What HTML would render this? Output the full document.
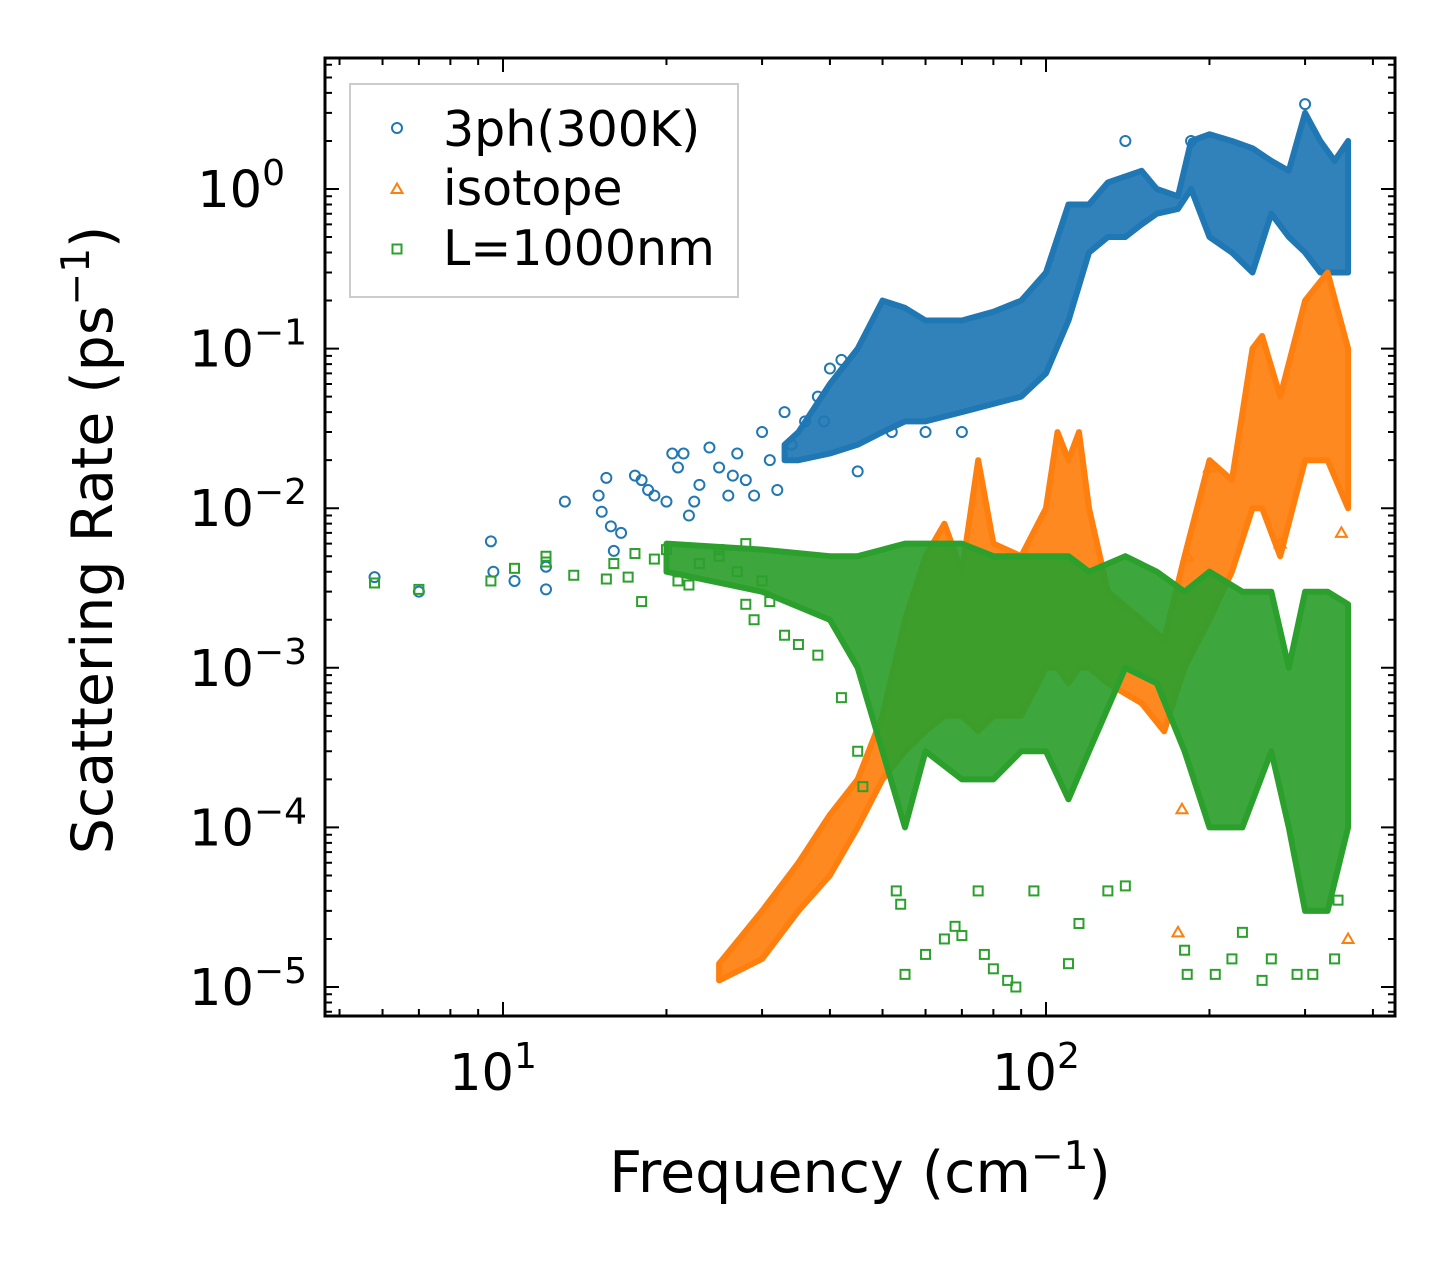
<!DOCTYPE html>
<html><head><meta charset="utf-8"><style>
body{margin:0;background:#fff;}
svg{display:block;font-family:"DejaVu Sans","Liberation Sans",sans-serif;}
</style></head>
<body>
<svg id="chart" width="1455" height="1265" viewBox="0 0 1455 1265" xmlns="http://www.w3.org/2000/svg">
<rect width="1455" height="1265" fill="#fff"/>
<defs><clipPath id="clip"><rect x="325" y="58" width="1070" height="958"/></clipPath></defs>
<g id="bands" clip-path="url(#clip)"></g>
<g id="points" clip-path="url(#clip)"></g>
<g id="axes"></g>
<text x="860" y="1192" font-size="57" text-anchor="middle">Frequency (cm<tspan font-size="39" dy="-23">−1</tspan><tspan dy="23">)</tspan></text>
<text transform="translate(112,540) rotate(-90)" font-size="57" text-anchor="middle">Scattering Rate (ps<tspan font-size="39" dy="-23">−1</tspan><tspan dy="23">)</tspan></text>
<g>
<rect x="350" y="84" width="388" height="213" fill="#fff" stroke="#ccc" stroke-width="2"/>
<circle cx="397" cy="128" r="5" fill="none" stroke="#1f77b4" stroke-width="2"/>
<text x="443" y="146" font-size="49">3ph(300K)</text>
<path d="M391.5 193 L397 183.5 L402.5 193 Z" fill="none" stroke="#ff7f0e" stroke-width="2"/>
<text x="443" y="205" font-size="49">isotope</text>
<rect x="392.5" y="244.5" width="9" height="9" fill="none" stroke="#2ca02c" stroke-width="2"/>
<text x="443" y="265" font-size="49">L=1000nm</text>
</g>
</svg>
<script>
// ---- data ----
const bandFreqBlue=[33,35,40,45,50,55,60,70,80,90,100,110,120,130,140,150,160,175,185,200,220,240,260,280,300,320,340,360];
const bandLoBlue=[0.02,0.02,0.022,0.025,0.03,0.035,0.035,0.04,0.045,0.05,0.07,0.15,0.4,0.5,0.5,0.6,0.7,0.75,1.0,0.5,0.4,0.3,0.7,0.5,0.4,0.3,0.3,0.3];
const bandHiBlue=[0.025,0.03,0.06,0.1,0.2,0.18,0.15,0.15,0.17,0.2,0.3,0.8,0.8,1.1,1.2,1.3,1.0,0.9,2.0,2.2,2.0,1.8,1.5,1.3,3.0,2.0,1.5,2.0];
const bandFreqOrange=[25,30,35,40,45,50,55,60,65,70,75,80,90,100,105,110,115,120,130,150,165,180,200,220,240,250,270,300,330,360];
const bandLoOrange=[1.1e-5,1.5e-5,3e-5,5e-5,1e-4,2e-4,3e-4,4e-4,5e-4,5e-4,4e-4,5e-4,5e-4,1e-3,1e-3,8e-4,1e-3,1e-3,8e-4,6e-4,4e-4,1e-3,2e-3,4e-3,1e-2,1e-2,5e-3,2e-2,2e-2,1e-2];
const bandHiOrange=[1.4e-5,3e-5,6e-5,1.2e-4,2e-4,5e-4,2e-3,5e-3,8e-3,4e-3,2e-2,6e-3,5e-3,1e-2,3e-2,2e-2,3e-2,1e-2,3e-3,2e-3,1.5e-3,5e-3,2e-2,1.5e-2,1e-1,1.2e-1,5e-2,2e-1,3e-1,1e-1];
const bandFreqGreen=[20,30,40,45,50,55,60,70,80,90,100,110,120,140,160,180,200,230,260,280,300,330,360];
const bandLoGreen=[4e-3,3e-3,2e-3,1e-3,3e-4,1e-4,3e-4,2e-4,2e-4,3e-4,3e-4,1.5e-4,3e-4,1e-3,8e-4,3e-4,1e-4,1e-4,3e-4,1e-4,3e-5,3e-5,1e-4];
const bandHiGreen=[6e-3,5.5e-3,5e-3,5e-3,5.5e-3,6e-3,6e-3,6e-3,5e-3,5e-3,5e-3,5e-3,4e-3,5e-3,4e-3,3e-3,4e-3,3e-3,3e-3,1e-3,3e-3,3e-3,2.5e-3];
const freqBlue=[5.8,7,9.5,9.6,10.5,12,12,13,15,15.2,15.5,15.8,16,16.5,17.5,18,18.5,19,20,20.5,21,21.5,22,22.5,23,24,25,26,26.5,27,28,29,30,31,32,33,34,36,38,39,40,42,45,52,60,70,140,185,300];
const rateBlue=[3.7e-3,3e-3,6.2e-3,4e-3,3.5e-3,4.3e-3,3.1e-3,1.1e-2,1.2e-2,9.5e-3,1.55e-2,7.7e-3,5.4e-3,7e-3,1.6e-2,1.5e-2,1.3e-2,1.2e-2,1.1e-2,2.2e-2,1.8e-2,2.2e-2,9e-3,1.1e-2,1.4e-2,2.4e-2,1.8e-2,1.2e-2,1.6e-2,2.2e-2,1.5e-2,1.2e-2,3e-2,2e-2,1.3e-2,4e-2,2.5e-2,3.5e-2,5e-2,3.5e-2,7.5e-2,8.5e-2,1.7e-2,0.03,0.03,0.03,2.0,2.0,3.4];
const freqOrange=[175,178,360,200,350,270,182];
const rateOrange=[2.2e-5,1.3e-4,2e-5,0.018,0.007,0.006,0.005];
const freqGreen=[5.8,7,9.5,10.5,12,12,13.5,15.5,16,17,17.5,18,19,20,21,22,23,25,25,27,28,28,29,30,31,33,35,38,42,45,46,53,54,55,60,65,68,70,75,77,80,85,88,95,110,115,130,140,180,182,205,220,230,250,260,290,310,340,345];
const rateGreen=[3.4e-3,3.1e-3,3.5e-3,4.2e-3,5e-3,4.6e-3,3.8e-3,3.6e-3,4.5e-3,3.7e-3,5.2e-3,2.6e-3,4.8e-3,5.5e-3,3.5e-3,3.3e-3,4.5e-3,5e-3,5.5e-3,4e-3,2.5e-3,6e-3,2e-3,3.5e-3,2.6e-3,1.6e-3,1.4e-3,1.2e-3,6.5e-4,3e-4,1.8e-4,4e-5,3.3e-5,1.2e-5,1.6e-5,2e-5,2.4e-5,2.1e-5,4e-5,1.6e-5,1.3e-5,1.1e-5,1e-5,4e-5,1.4e-5,2.5e-5,4e-5,4.3e-5,1.7e-5,1.2e-5,1.2e-5,1.5e-5,2.2e-5,1.1e-5,1.5e-5,1.2e-5,1.2e-5,1.5e-5,3.5e-5];
const xTickVals=[1,2];
const yTickVals=[0,-1,-2,-3,-4,-5];

// ---- axes functions ----
const X0=325,X1=1395,Y0=58,Y1=1016;
const xLogMin=1-178/543, xDec=543;
const yDec=159.6, yZeroPix=189;
function xs(v){return X0+(Math.log10(v)-xLogMin)*xDec;}
function ys(v){return yZeroPix-Math.log10(v)*yDec;}
const NS="http://www.w3.org/2000/svg";
function mk(tag,attrs,parent){const e=document.createElementNS(NS,tag);for(const k in attrs)e.setAttribute(k,attrs[k]);parent.appendChild(e);return e;}

const bands=document.getElementById('bands');
function band(f,lo,hi,color,name){
  let d='';
  for(let i=0;i<f.length;i++)d+=(i?'L':'M')+xs(f[i]).toFixed(1)+' '+ys(hi[i]).toFixed(1);
  for(let i=f.length-1;i>=0;i--)d+='L'+xs(f[i]).toFixed(1)+' '+ys(lo[i]).toFixed(1);
  const p=mk('path',{d:d+'Z',fill:color,stroke:color,'stroke-width':6,'stroke-linejoin':'round','fill-opacity':0.92},bands);
  
  
}
band(bandFreqBlue,bandLoBlue,bandHiBlue,'#1f77b4','blue-dense-region');
band(bandFreqOrange,bandLoOrange,bandHiOrange,'#ff7f0e','orange-dense-region');
band(bandFreqGreen,bandLoGreen,bandHiGreen,'#2ca02c','green-dense-region');

const pts=document.getElementById('points');
for(let i=0;i<freqBlue.length;i++){
  const c=mk('circle',{cx:xs(freqBlue[i]),cy:ys(rateBlue[i]),r:5,fill:'none',stroke:'#1f77b4','stroke-width':2},pts);
  
  
}
for(let i=0;i<freqOrange.length;i++){
  const x=xs(freqOrange[i]),y=ys(rateOrange[i]);
  const t=mk('path',{d:`M${x-5.5} ${y+4} L${x} ${y-5.5} L${x+5.5} ${y+4}Z`,fill:'none',stroke:'#ff7f0e','stroke-width':2},pts);
  
  
}
for(let i=0;i<freqGreen.length;i++){
  const x=xs(freqGreen[i]),y=ys(rateGreen[i]);
  const s=mk('rect',{x:x-4.5,y:y-4.5,width:9,height:9,fill:'none',stroke:'#2ca02c','stroke-width':2},pts);
  
  
}

const ax=document.getElementById('axes');
const frame=mk('rect',{x:X0,y:Y0,width:X1-X0,height:Y1-Y0,fill:'none',stroke:'#000','stroke-width':3},ax);


let td='';
for(let d=0;d<=3;d++)for(let m=1;m<=9;m++){
  const x=xs(m*Math.pow(10,d));if(x<X0||x>X1)continue;
  const L=m===1?14:7;
  td+=`M${x} ${Y1}v${-L}M${x} ${Y0}v${L}`;
}
for(let d=-6;d<=1;d++)for(let m=1;m<=9;m++){
  const y=ys(m*Math.pow(10,d));if(y<Y0||y>Y1)continue;
  const L=m===1?14:7;
  td+=`M${X0} ${y}h${L}M${X1} ${y}h${-L}`;
}
const ticks=mk('path',{d:td,stroke:'#000','stroke-width':2,fill:'none'},ax);


for(const e of xTickVals){
  const t=mk('text',{x:xs(Math.pow(10,e))-10,y:1090,'font-size':51,'text-anchor':'middle'},ax);
  
  
  t.innerHTML=`10<tspan font-size="36" dy="-22">${e}</tspan>`;
}
for(const e of yTickVals){
  const t=mk('text',{x:e===0?285:307,y:ys(Math.pow(10,e))+18,'font-size':51,'text-anchor':'end'},ax);
  
  
  t.innerHTML=`10<tspan font-size="36" dy="-22">${e===0?'0':'−'+(-e)}</tspan>`;
}
</script>
</body></html>
